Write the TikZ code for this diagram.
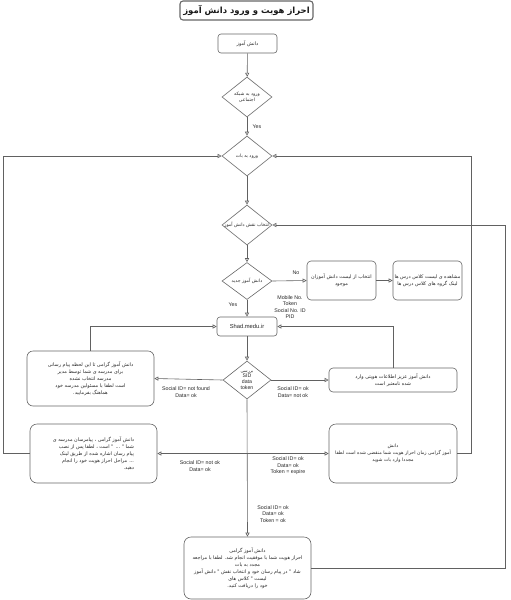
\documentclass[tikz,border=0pt]{standalone}
\usepackage{fontspec}
\setmainfont{Liberation Sans}
\newfontfamily\arabicfont[Script=Arabic]{DejaVu Sans}
\TeXXeTstate=1
\usetikzlibrary{shapes.geometric,arrows.meta}
\newcommand\fatxt[1]{{\arabicfont\beginR #1\endR}}
\begin{document}
\begin{tikzpicture}[x=1pt,y=-1pt,
  ln/.style={draw=black!62, line width=0.6pt},
  arr/.style={ln, -{Triangle[open,length=4pt,width=4pt]}},
  box/.style={draw=black!60, line width=0.6pt, rounded corners=4pt, inner sep=1pt, align=center,
    text=black!85, font=\fontsize{4.9}{7}\selectfont},
  dia/.style={diamond, draw=black!60, line width=0.6pt, inner sep=0pt},
  dtxt/.style={align=center, inner sep=0pt, text=black!85, font=\fontsize{4.6}{6.4}\selectfont},
  lab/.style={align=center, inner sep=0pt, text=black!85, font=\fontsize{5.3}{6.6}\selectfont}]
\useasboundingbox (0,0) rectangle (511,600);

% title
\node[draw=black!60, line width=1.1pt, rounded corners=3pt, minimum width=127pt, minimum height=19pt,
  text=black!90, font=\bfseries\fontsize{8.5}{10}\selectfont] (title) at (246.5,10.5) {\fatxt{احراز هویت و ورود دانش آموز}};

% nodes
\node[box, minimum width=59pt, minimum height=19pt, rounded corners=3pt] (start) at (247.5,43.5) {\fatxt{دانش آموز}};
\node[dia, minimum width=50pt, minimum height=40pt] (d1) at (247,97) {};
\node[dtxt] (d1t) at (d1.center) {\fatxt{ورود به شبکه}\\\fatxt{اجتماعی}};
\node[dia, minimum width=50pt, minimum height=40pt] (d2) at (247,156) {};
\node[dtxt] (d2t) at (d2.center) {\fatxt{ورود به بات}};
\node[dia, minimum width=50pt, minimum height=40pt] (d3) at (247,225) {};
\node[dtxt] (d3t) at (d3.center) {\fatxt{انتخاب نقش دانش آموز}};
\node[dia, minimum width=50pt, minimum height=37pt] (d4) at (247,281) {};
\node[dtxt] (d4t) at (d4.center) {\fatxt{دانش آموز جدید}};
\node[box, minimum width=69pt, minimum height=39pt] (bA) at (341.5,280.5) {\fatxt{انتخاب از لیست دانش آموزان}\\\fatxt{موجود}};
\node[box, minimum width=69pt, minimum height=39pt] (bB) at (427.5,280.5) {\fatxt{مشاهده ی لیست کلاس درس ها}\\\fatxt{لینک گروه های کلاس درس ها}};
\node[box, minimum width=60pt, minimum height=19pt, rounded corners=3pt, font=\fontsize{5.8}{7}\selectfont] (shad) at (247,326.5) {Shad.medu.ir};
\node[dia, minimum width=48pt, minimum height=38pt] (d5) at (247,380) {};
\node[dtxt, font=\fontsize{5.2}{5.8}\selectfont] (d5t) at (d5.center) {{\fontsize{4.2}{5}\selectfont\fatxt{بررسی}}\\SID\\data\\token};

\node[box, minimum width=127pt, minimum height=55pt, rounded corners=6pt] (L1) at (90.5,378.5)
  {\fatxt{دانش آموز گرامی تا این لحظه پیام رسانی}\\\fatxt{برای مدرسه ی شما توسط مدیر}\\\fatxt{مدرسه انتخاب نشده}\\\fatxt{است لطفا با مسئولین مدرسه خود}\\\fatxt{هماهنگ بفرمایید.}};
\node[box, minimum width=128pt, minimum height=24pt] (R1) at (393,380)
  {\fatxt{دانش آموز عزیز اطلاعات هویتی وارد}\\\fatxt{شده نامعتبر است}};
\node[box, minimum width=127pt, minimum height=59pt, rounded corners=7pt, align=right] (L2) at (93.5,453.5)
  {\fatxt{دانش آموز گرامی ، پیامرسان مدرسه ی}\\\fatxt{شما " ... " است ، لطفا پس از نصب}\\\fatxt{پیام رسان اشاره شده از طریق لینک}\\\fatxt{... مراحل احراز هویت خود را انجام}\\\fatxt{دهید.}};
\node[box, minimum width=128pt, minimum height=59pt, rounded corners=7pt, font=\fontsize{4.7}{7}\selectfont] (R2) at (393,453.5)
  {\fatxt{دانش}\\\fatxt{آموز گرامی زمان احراز هویت شما منقضی شده است لطفا}\\\fatxt{مجددا وارد بات شوید}};
\node[box, minimum width=127pt, minimum height=62pt, rounded corners=7pt] (F) at (247.5,568)
  {\fatxt{دانش آموز گرامی}\\\fatxt{احراز هویت شما با موفقیت انجام شد. لطفا با مراجعه}\\\fatxt{مجدد به بات}\\\fatxt{شاد " در پیام رسان خود و انتخاب نقش " دانش آموز}\\\fatxt{لیست " کلاس های}\\\fatxt{خود را دریافت کنید.}};

% coordinates
\coordinate (lx) at (3,0);
\coordinate (rx) at (471,0);
\coordinate (rx2) at (505,0);
\coordinate (br) at (d5.south |- L2.east);

% connectors
\draw[arr] (start) -- (d1);
\draw[arr] (d1) -- (d2);
\draw[arr] (d2) -- (d3);
\draw[arr] (d3) -- (d4);
\draw[arr] (d4.east) -- (bA.west);
\draw[arr] (bA.east) -- (bB.west);
\draw[arr] (d4.south) -- (shad.north);
\draw[arr] (shad.south) -- (d5.north);
\draw[arr] (d5.west) -- (L1.east);
\draw[arr] (d5.east) -- (R1.west);
\draw[arr] (L1.north) |- (shad.west);
\draw[arr] (R1.north) |- (shad.east);
\draw[arr] (d5.south) -- (F.north);
\draw[arr] (br) -- (L2.east);
\draw[arr] (br) -- (R2.west);
\draw[arr] (L2.west) -| (lx |- d2.west) -- (d2.west);
\draw[arr] (R2.east) -| (rx |- d2.east) -- (d2.east);
\draw[arr] (F.east) -| (rx2 |- d3.east) -- (d3.east);

% labels
\node[lab] (yes1) at (257,127) {Yes};
\node[lab] (no) at (296,273) {No};
\node[lab] (yes2) at (233,305) {Yes};
\node[lab] (ids) at (290,307) {Mobile No.\\Token\\Social No. ID\\PID};
\node[lab] (lnf) at (186,392) {Social ID= not found\\Data= ok};
\node[lab] (lok) at (293,392) {Social ID= ok\\Data= not ok};
\node[lab] (lno) at (200,466) {Social ID= not ok\\Data= ok};
\node[lab] (lex) at (288,466) {Social ID= ok\\Data= ok\\Token = expire};
\node[lab] (lto) at (273,514) {Social ID= ok\\Data= ok\\Token = ok};
\end{tikzpicture}
\end{document}
